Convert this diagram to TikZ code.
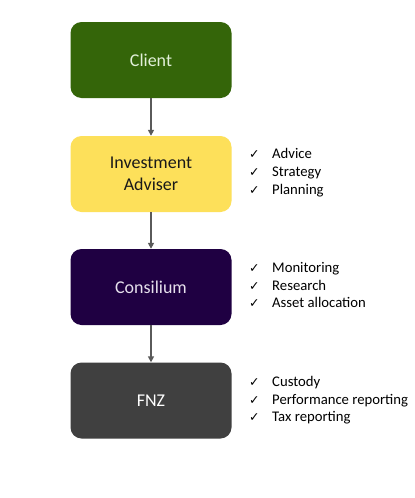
\documentclass[tikz,border=0pt]{standalone}
\usepackage{fontspec}
\setmainfont{Carlito}
\newfontfamily\symfont{DejaVu Sans}
\usetikzlibrary{arrows.meta}
\definecolor{cgreen}{HTML}{346509}
\definecolor{cgreentext}{HTML}{E2F0D9}
\definecolor{cyellow}{HTML}{FDE05A}
\definecolor{cpurple}{HTML}{1F0042}
\definecolor{cpurpletext}{HTML}{E6E0EC}
\definecolor{cgray}{HTML}{404040}
\definecolor{carrow}{HTML}{5A5A5A}
\tikzset{
  box/.style={rounded corners=11pt, minimum width=161pt, minimum height=76pt, inner sep=0pt, align=center, font=\fontsize{18}{21.5}\selectfont},
  conn/.style={draw=carrow, line width=1.6pt, -{Triangle[length=6pt,width=6pt]}},
  item/.style={anchor=base west, inner sep=0pt, font=\fontsize{14.7}{17.6}\selectfont}
}
\newcommand{\ck}{\makebox[23pt][l]{\symfont\fontsize{12.5}{13}\selectfont ✓}}
\begin{document}
\begin{tikzpicture}[x=1pt,y=-1pt]
\useasboundingbox[fill=white] (0,0) rectangle (415,498);
\node[box, fill=cgreen, text=cgreentext] (client) at (151,60) {Client};
\node[box, fill=cyellow, text=black!90] (adviser) at (151,174) {Investment\\Adviser};
\node[box, fill=cpurple, text=cpurpletext] (consilium) at (151,287) {Consilium};
\node[box, fill=cgray, text=white] (fnz) at (151,400.5) {FNZ};
\draw[conn] (client) -- (adviser);
\draw[conn] (adviser) -- (consilium);
\draw[conn] (consilium) -- (fnz);
\node[item] (a1) at (249,158.5) {\ck Advice};
\node[item] (a2) at (249,176.3) {\ck Strategy};
\node[item] (a3) at (249,194) {\ck Planning};
\node[item] (b1) at (249,272.3) {\ck Monitoring};
\node[item] (b2) at (249,290) {\ck Research};
\node[item] (b3) at (249,307.7) {\ck Asset allocation};
\node[item] (c1) at (249,386.7) {\ck Custody};
\node[item] (c2) at (249,404.3) {\ck Performance reporting};
\node[item] (c3) at (249,421.8) {\ck Tax reporting};
\end{tikzpicture}
\end{document}
